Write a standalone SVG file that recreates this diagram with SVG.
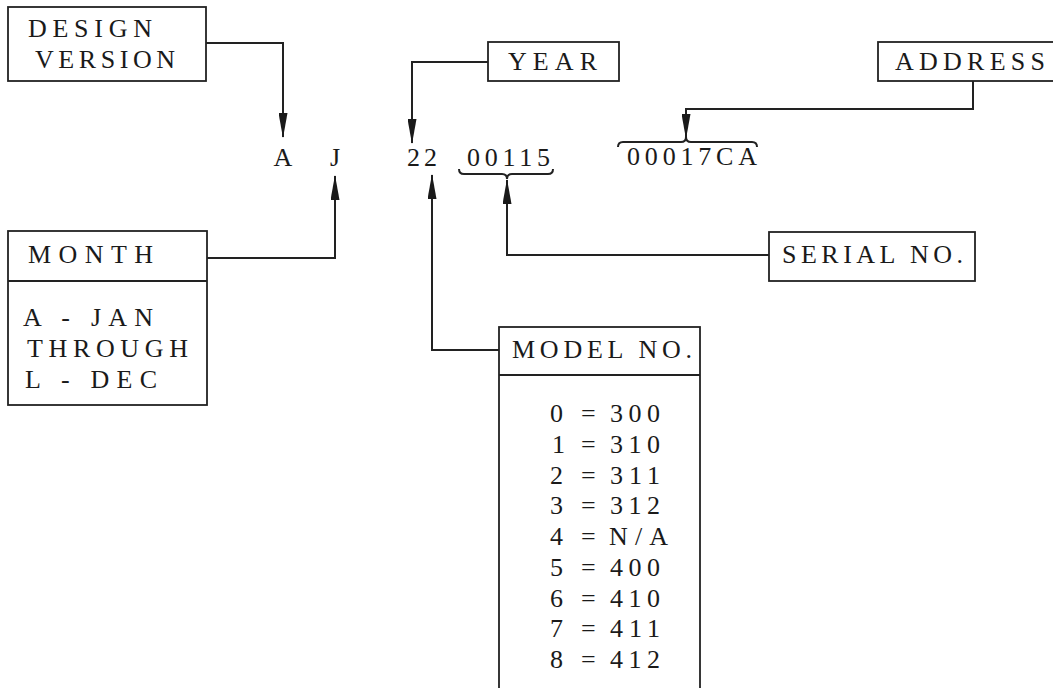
<svg xmlns="http://www.w3.org/2000/svg" width="1053" height="688" viewBox="0 0 1053 688">
<style>
.box{fill:none;stroke:#222;stroke-width:1.8}
.ln{fill:none;stroke:#222;stroke-width:2}
.t{font-family:"Liberation Serif",serif;font-size:26px;fill:#1a1a1a}
</style>
<defs>
<marker id="ah" markerUnits="userSpaceOnUse" markerWidth="25" markerHeight="9" refX="24" refY="4.5" orient="auto" viewBox="0 0 25 9">
<path d="M0,0 L25,4.5 L0,9 Z" fill="#1a1a1a"/>
</marker>
</defs>
<rect width="1053" height="688" fill="#fff"/>

<g id="code">
<text class="t" x="283" y="166" text-anchor="middle">A</text>
<text class="t" x="335" y="166" text-anchor="middle">J</text>
<text class="t" x="407" y="166" textLength="30" lengthAdjust="spacing">22</text>
<text class="t" x="467" y="166" textLength="83" lengthAdjust="spacing">00115</text>
<text class="t" x="627" y="165" textLength="130" lengthAdjust="spacing">00017CA</text>
<path class="ln" d="M459,169 Q459,174 464,174 L502,174 Q507,174 507,179 Q507,174 512,174 L548,174 Q553,174 553,169"/>
<path class="ln" d="M618,147 Q618,142 623,142 L681,142 Q686,142 686,137 Q686,142 691,142 L752,142 Q757,142 757,147"/>
</g>

<g id="design-version">
<rect class="box" x="8" y="7" width="198" height="74"/>
<text class="t" x="28" y="37" textLength="124" lengthAdjust="spacing">DESIGN</text>
<text class="t" x="35" y="68" textLength="140" lengthAdjust="spacing">VERSION</text>
</g>

<g id="year">
<rect class="box" x="488" y="42" width="131" height="39"/>
<text class="t" x="508" y="70" textLength="89" lengthAdjust="spacing">YEAR</text>
</g>

<g id="address">
<rect class="box" x="878" y="42" width="190" height="39"/>
<text class="t" x="895" y="70" textLength="150" lengthAdjust="spacing">ADDRESS</text>
</g>

<g id="month">
<rect class="box" x="8" y="231" width="199" height="174"/>
<line class="box" x1="8" y1="281" x2="207" y2="281"/>
<text class="t" x="28" y="263" textLength="125" lengthAdjust="spacing">MONTH</text>
<text class="t" x="23" y="326" textLength="130" lengthAdjust="spacing">A - JAN</text>
<text class="t" x="27" y="357" textLength="161" lengthAdjust="spacing">THROUGH</text>
<text class="t" x="25" y="388" textLength="132" lengthAdjust="spacing">L - DEC</text>
</g>

<g id="serial-no">
<rect class="box" x="769" y="232" width="206" height="49"/>
<text class="t" x="782" y="263" textLength="181" lengthAdjust="spacing">SERIAL NO.</text>
</g>

<g id="model-no">
<rect class="box" x="499" y="327" width="201" height="380"/>
<line class="box" x1="499" y1="375" x2="700" y2="375"/>
<text class="t" x="512" y="358" textLength="180" lengthAdjust="spacing">MODEL NO.</text>
<g class="t">
<text x="550" y="422">0</text><text x="581" y="422">=</text><text x="610" y="422" textLength="50" lengthAdjust="spacing">300</text>
<text x="552" y="453">1</text><text x="581" y="453">=</text><text x="610" y="453" textLength="50" lengthAdjust="spacing">310</text>
<text x="550" y="484">2</text><text x="581" y="484">=</text><text x="610" y="484" textLength="50" lengthAdjust="spacing">311</text>
<text x="550" y="514">3</text><text x="581" y="514">=</text><text x="610" y="514" textLength="50" lengthAdjust="spacing">312</text>
<text x="550" y="545">4</text><text x="581" y="545">=</text><text x="609" y="545" textLength="59" lengthAdjust="spacing">N/A</text>
<text x="550" y="576">5</text><text x="581" y="576">=</text><text x="610" y="576" textLength="50" lengthAdjust="spacing">400</text>
<text x="550" y="607">6</text><text x="581" y="607">=</text><text x="610" y="607" textLength="50" lengthAdjust="spacing">410</text>
<text x="550" y="637">7</text><text x="581" y="637">=</text><text x="610" y="637" textLength="50" lengthAdjust="spacing">411</text>
<text x="550" y="668">8</text><text x="581" y="668">=</text><text x="610" y="668" textLength="50" lengthAdjust="spacing">412</text>
</g>
</g>

<g id="connectors">
<path class="ln" d="M206,43 H283 V137" marker-end="url(#ah)"/>
<path class="ln" d="M488,62 H412 V143" marker-end="url(#ah)"/>
<path class="ln" d="M973,81 V109 H686 V138" marker-end="url(#ah)"/>
<path class="ln" d="M207,258 H335 V176" marker-end="url(#ah)"/>
<path class="ln" d="M769,255 H507 V180" marker-end="url(#ah)"/>
<path class="ln" d="M499,350 H432 V175" marker-end="url(#ah)"/>
</g>
</svg>
